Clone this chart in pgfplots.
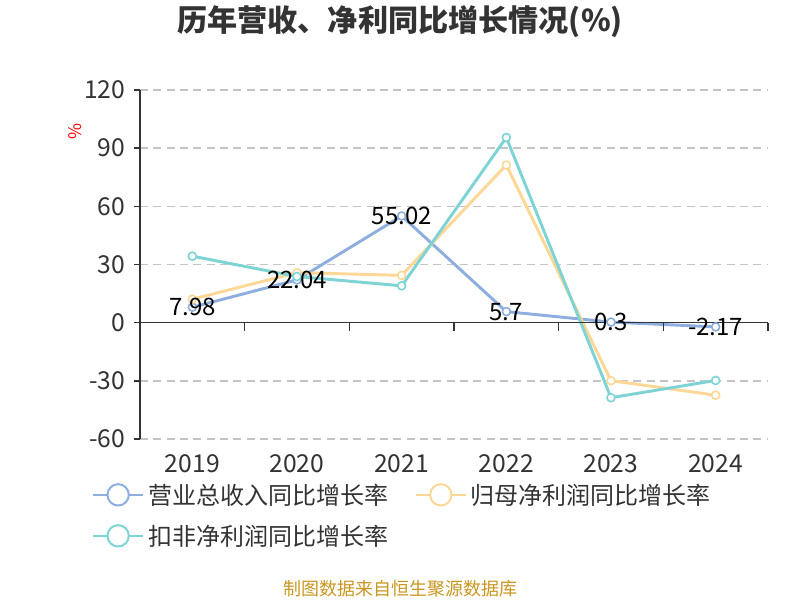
\documentclass[border=0pt]{standalone}
\usepackage{fontspec}
\setmainfont{Noto Sans CJK SC}
\usepackage{pgfplots}
\pgfplotsset{compat=1.18}
\definecolor{cblue}{HTML}{8DAEDE}
\definecolor{corange}{HTML}{FDD796}
\definecolor{cteal}{HTML}{7ED3D5}
\definecolor{c333}{HTML}{333333}
\definecolor{cgrid}{HTML}{C4C4C4}
\definecolor{cfoot}{HTML}{C9961F}
\begin{document}
\begin{tikzpicture}
\useasboundingbox (0pt,0pt) rectangle (600pt,450pt);
\node[font=\fontsize{22.6}{26}\selectfont\bfseries, text=c333] at (300pt,433.5pt) {历年营收、净利同比增长情况(\%)};
\node[rotate=90, text=red, font=\fontsize{13}{15}\selectfont] at (56pt,351pt) {\%};
\node[text=cfoot, font=\fontsize{13.5}{16}\selectfont] at (300pt,8.5pt) {制图数据来自恒生聚源数据库};
\begin{axis}[
  at={(105pt,120.75pt)}, anchor=south west,
  scale only axis, width=471pt, height=261.75pt,
  xmin=0, xmax=6, ymin=-60, ymax=120,
  axis lines=left,
  axis line style={-, c333, line width=1.1pt},
  x axis line style={draw=none},
  xtick={0.5,1.5,2.5,3.5,4.5,5.5},
  xticklabels={2019,2020,2021,2022,2023,2024},
  ytick={-60,-30,0,30,60,90,120},
  major x tick style={draw=none},
  major y tick style={c333, line width=1.1pt},
  tick align=outside,
  major tick length=4.5pt,
  ymajorgrids,
  grid style={cgrid, dash pattern=on 6pt off 4pt, line width=1.1pt},
  /pgf/number format/assume math mode=true,
  tick label style={font=\fontsize{18.5}{20}\selectfont, text=c333},
  xticklabel style={yshift=-4pt},
  yticklabel style={xshift=-3pt},
  clip=false,
  legend columns=2,
  legend cell align=left,
  legend style={at={(-0.083,-0.112)}, anchor=north west, draw=none, fill=none,
    font=\fontsize{18}{20}\selectfont, text=c333, row sep=10pt,
    /tikz/every odd column/.append style={column sep=1pt},
    /tikz/every even column/.append style={column sep=18pt}},
  legend image code/.code={
    \draw[line width=1.5pt] (0pt,0pt) -- (37.5pt,0pt);
    \draw[line width=1.5pt, fill=white] (18.75pt,0pt) circle (8pt);
  },
  every axis plot/.append style={line width=2.2pt, mark=*, mark size=3pt,
    mark options={fill=white, line width=1.2pt}},
]
\addplot[color=cblue] coordinates {(0.5,7.98) (1.5,22.04) (2.5,55.02) (3.5,5.7) (4.5,0.3) (5.5,-2.17)};
\addlegendentry{营业总收入同比增长率}
\addplot[color=corange] coordinates {(0.5,12.1) (1.5,25.8) (2.5,24.4) (3.5,81.3) (4.5,-29.9) (5.5,-37.4)};
\addlegendentry{归母净利润同比增长率}
\addplot[color=cteal] coordinates {(0.5,34.3) (1.5,23.8) (2.5,19.0) (3.5,95.5) (4.5,-38.7) (5.5,-29.8)};
\addlegendentry{扣非净利润同比增长率}
\draw[c333, line width=1.1pt] (axis cs:0,0) -- (axis cs:6,0);
\pgfplotsinvokeforeach{1,2,3,4,5,6}{\draw[c333, line width=1.1pt] (axis cs:#1,0) -- ++(0pt,-6pt);}
\addplot[draw=none, mark=none, forget plot, point meta=explicit symbolic,
  nodes near coords, nodes near coords style={anchor=center, text=black, font=\fontsize{18}{20}\selectfont}]
  coordinates {(0.5,7.98)[7.98] (1.5,22.04)[22.04] (2.5,55.02)[55.02] (3.5,5.7)[5.7] (4.5,0.3)[0.3] (5.5,-2.17)[-2.17]};
\end{axis}
\end{tikzpicture}
\end{document}
